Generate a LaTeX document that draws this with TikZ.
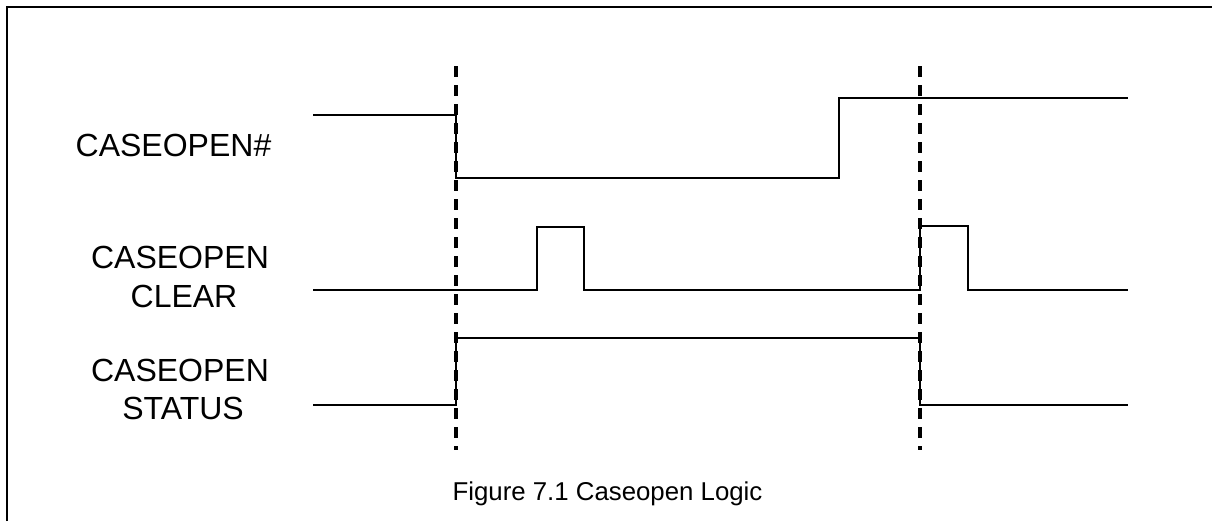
\documentclass[tikz,border=0pt]{standalone}
\usepackage{fontspec}
\setmainfont{Liberation Sans}
\begin{document}
\begin{tikzpicture}[x=0.5pt,y=-0.5pt,
  frame/.style={line width=1pt},
  wave/.style={line width=1pt},
  marker/.style={line width=2pt,dash pattern=on 5.5pt off 4pt},
  siglabel/.style={anchor=base,inner sep=0pt,font=\fontsize{16}{19}\selectfont},
  caption/.style={anchor=base,inner sep=0pt,font=\fontsize{12.9}{15}\selectfont}]
\useasboundingbox (0,0) rectangle (1212,521);
% frame
\draw[frame] (7,521) -- (7,7) -- (1212,7);
% markers
\draw[marker] (456,66) -- (456,450);
\draw[marker] (920,66) -- (920,450);
% waveforms
\draw[wave] (313,115) -- (456,115) -- (456,178) -- (839,178) -- (839,98) -- (1128,98);
\draw[wave] (313,290) -- (537,290) -- (537,227) -- (584,227) -- (584,290) -- (920,290) -- (920,226) -- (968,226) -- (968,290) -- (1128,290);
\draw[wave] (313,405) -- (456,405) -- (456,338) -- (920,338) -- (920,405) -- (1128,405);
% labels
\node[siglabel] (l1) at (173.5,156) {CASEOPEN\#};
\node[siglabel] (l2a) at (180,268) {CASEOPEN};
\node[siglabel] (l2b) at (184,307) {CLEAR};
\node[siglabel] (l3a) at (180,381) {CASEOPEN};
\node[siglabel] (l3b) at (183,419) {STATUS};
\node[caption] (cap) at (607.5,500) {Figure 7.1 Caseopen Logic};
\end{tikzpicture}
\end{document}
